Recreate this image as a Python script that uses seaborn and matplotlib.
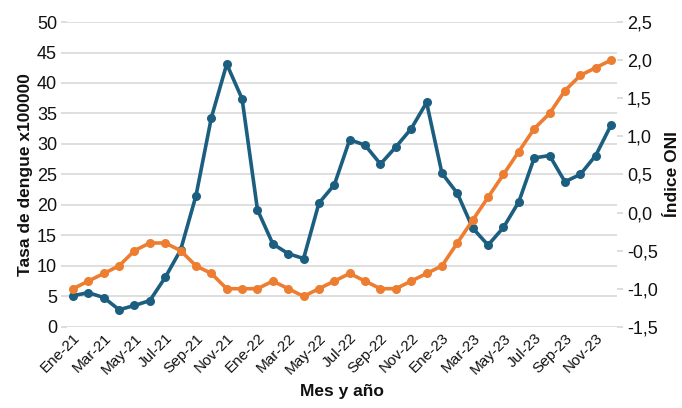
import matplotlib
matplotlib.use("Agg")
import matplotlib.pyplot as plt
import seaborn as sns
import pandas as pd
import numpy as np
from matplotlib.ticker import FuncFormatter, MultipleLocator

months = ["Ene", "Feb", "Mar", "Abr", "May", "Jun", "Jul", "Ago", "Sep", "Oct", "Nov", "Dic"]
years = ["21", "22", "23"]
labels = [f"{m}-{y}" for y in years for m in months]

dengue = [5.1, 5.6, 4.8, 2.8, 3.5, 4.3, 8.1, 12.6, 21.5, 34.3, 43.1, 37.4,
          19.2, 13.6, 12.0, 11.2, 20.3, 23.3, 30.7, 29.8, 26.7, 29.5, 32.5, 36.8,
          25.2, 21.9, 16.2, 13.4, 16.3, 20.5, 27.7, 28.1, 23.8, 25.0, 28.1, 33.1]
oni = [-1.0, -0.9, -0.8, -0.7, -0.5, -0.4, -0.4, -0.5, -0.7, -0.8, -1.0, -1.0,
       -1.0, -0.9, -1.0, -1.1, -1.0, -0.9, -0.8, -0.9, -1.0, -1.0, -0.9, -0.8,
       -0.7, -0.4, -0.1, 0.2, 0.5, 0.8, 1.1, 1.3, 1.6, 1.8, 1.9, 2.0]

df = pd.DataFrame({"idx": np.arange(len(labels)), "mes": labels,
                   "dengue": dengue, "oni": oni})

sns.set_theme(style="white")
plt.rcParams["font.family"] = ["Liberation Sans", "DejaVu Sans"]
plt.rcParams["text.color"] = "#111111"
plt.rcParams["axes.labelcolor"] = "#111111"
plt.rcParams["xtick.color"] = "#111111"
plt.rcParams["ytick.color"] = "#111111"

BLUE = "#1B5E80"
ORANGE = "#ED7D31"
GRID = "#D9D9D9"

fig = plt.figure(figsize=(6.82, 4.08), dpi=100)
ax = fig.add_axes([0.098, 0.199, 0.807, 0.747])
ax2 = ax.twinx()

sns.lineplot(data=df, x="idx", y="dengue", ax=ax, color=BLUE, lw=2.6,
             marker="o", markersize=6.5, markeredgewidth=0, zorder=3)
sns.lineplot(data=df, x="idx", y="oni", ax=ax2, color=ORANGE, lw=2.6,
             marker="o", markersize=6.5, markeredgewidth=0, zorder=3)

ax.set_xlim(-0.4, 35.4)
ax.set_ylim(0, 50)
ax.yaxis.set_major_locator(MultipleLocator(5))
ax2.set_ylim(-1.5, 2.5)
ax2.yaxis.set_major_locator(MultipleLocator(0.5))
ax2.yaxis.set_major_formatter(FuncFormatter(lambda v, p: f"{v:.1f}".replace(".", ",")))

ax.grid(axis="y", color=GRID, lw=1.2)
ax.set_axisbelow(True)
ax2.grid(False)

ticks = list(range(0, 36, 2))
ax.set_xticks(ticks)
ax.set_xticklabels([labels[i] for i in ticks], rotation=45, ha="right",
                   rotation_mode="anchor", fontsize=11)

for a in (ax, ax2):
    for s in a.spines.values():
        s.set_visible(False)
ax.tick_params(axis="y", length=4, color=GRID, labelcolor="#111111", labelsize=13, pad=3)
ax2.tick_params(axis="y", length=4, color=GRID, labelcolor="#111111", labelsize=13, pad=3)
ax.tick_params(axis="x", length=0, pad=3, labelcolor="#111111")

ax.set_xlabel("Mes y año", fontsize=12.5, fontweight="bold", labelpad=5)
ax.set_ylabel("Tasa de dengue x100000", fontsize=12.5, fontweight="bold", labelpad=3)
ax2.set_ylabel("Índice ONI", fontsize=12.5, fontweight="bold", labelpad=5)

ax2.set_zorder(ax.get_zorder() + 1)
ax2.patch.set_visible(False)

fig.savefig("out.png", dpi=100, facecolor="white")
